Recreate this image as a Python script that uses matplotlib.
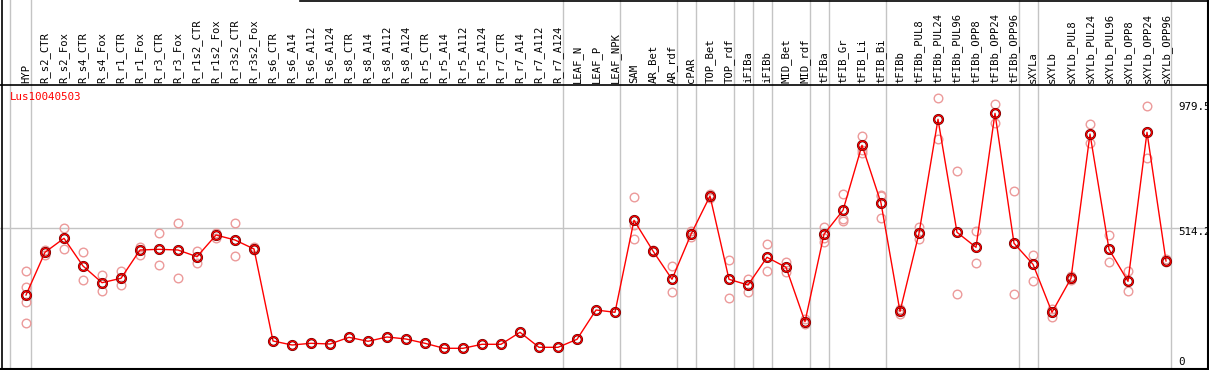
import matplotlib
matplotlib.use("Agg")
import matplotlib.pyplot as plt

# gene / sample names
gene = "Lus10040503"
categories = [
    "HYP", "R_s2_CTR", "R_s2_Fox", "R_s4_CTR", "R_s4_Fox", "R_r1_CTR", "R_r1_Fox",
    "R_r3_CTR", "R_r3_Fox", "R_r1s2_CTR", "R_r1s2_Fox", "R_r3s2_CTR", "R_r3s2_Fox",
    "R_s6_CTR", "R_s6_A14", "R_s6_A112", "R_s6_A124", "R_s8_CTR", "R_s8_A14",
    "R_s8_A112", "R_s8_A124", "R_r5_CTR", "R_r5_A14", "R_r5_A112", "R_r5_A124",
    "R_r7_CTR", "R_r7_A14", "R_r7_A112", "R_r7_A124", "LEAF_N", "LEAF_P", "LEAF_NPK",
    "SAM", "AR_Bet", "AR_rdf", "cPAR", "TOP_Bet", "TOP_rdf", "iFIBa", "iFIBb",
    "MID_Bet", "MID_rdf", "tFIBa", "tFIB_Gr", "tFIB_Li", "tFIB_Bi", "tFIBb",
    "tFIBb_PUL8", "tFIBb_PUL24", "tFIBb_PUL96", "tFIBb_OPP8", "tFIBb_OPP24",
    "tFIBb_OPP96", "sXYLa", "sXYLb", "sXYLb_PUL8", "sXYLb_PUL24", "sXYLb_PUL96",
    "sXYLb_OPP8", "sXYLb_OPP24", "sXYLb_OPP96",
]

means = [
    264.3, 423.3, 475.4, 372.3, 310.1, 326.5, 431.8, 434.4, 431.8, 406.9, 487.6,
    469.1, 435.6, 93.1, 78.2, 84.5, 81.9, 106.8, 92.0, 108.0, 100.5, 84.5, 65.9,
    65.9, 80.8, 80.8, 125.5, 69.6, 69.6, 99.4, 208.5, 199.9, 542.4, 428.1, 322.8,
    490.3, 632.9, 322.8, 301.5, 404.7, 367.4, 164.9, 490.3, 579.6, 821.6, 606.8,
    202.9, 494.0, 918.4, 497.7, 441.9, 940.7, 456.8, 378.6, 199.9, 326.5, 863.7,
    434.4, 315.3, 870.0, 390.9,
]

replicates = [
    [353.7, 294.1, 238.3, 160.1], [431.8, 413.2], [512.6, 434.4], [423.3, 320.2],
    [337.7, 279.2], [353.7, 300.4], [444.1, 414.3], [494.0, 376.0], [531.2, 326.5],
    [428.1, 382.3], [496.2, 477.6], [531.2, 409.5], [444.0, 432.0],
    [], [], [], [], [], [], [], [], [], [], [], [], [], [], [], [], [], [], [],
    [628.0, 471.7, 524.9], [430.0, 426.0], [371.2, 274.4], [502.6, 479.1],
    [640.3, 625.4], [393.5, 252.0], [322.8, 276.6], [453.1, 352.5], [387.2, 349.9],
    [175.0, 156.4], [517.4, 462.7, 476.5], [640.3, 547.2, 540.9],
    [856.2, 791.8, 804.1], [632.9, 549.8, 637.0], [212.0, 193.6], [518.6, 472.8],
    [996.6, 843.9], [726.0, 268.0], [502.6, 382.3], [975.3, 905.7], [651.5, 268.0],
    [413.2, 316.4, 380.0], [211.1, 183.5], [335.0, 320.2], [900.9, 829.0],
    [487.6, 386.0], [353.7, 279.2], [967.9, 773.2], [398.3, 387.2],
]

# gray separators after these groups
group_ends = ["HYP", "R_r7_A124", "LEAF_NPK", "AR_rdf", "cPAR", "TOP_rdf", "iFIBa",
              "iFIBb", "MID_rdf", "tFIBa", "tFIB_Bi", "tFIBb_OPP96", "sXYLa",
              "sXYLb_OPP96"]
ref_labels = ["979.5", "514.2", "0"]

# pixel layout helpers
K = 0.26862
def py(p):
    return (366 - p) / K
def px(p):
    return (p - 26) / 19.0

MONO = "DejaVu Sans Mono"
GRAY = "#c4c4c4"

fig = plt.figure(figsize=(12.09, 3.70), dpi=100)
ax = fig.add_axes([0, 0, 1, 1])
ax.set_xlim(px(0), px(1209))
ax.set_ylim(py(370), py(0))
ax.axis("off")

# separators
ax.axvline(px(10), color=GRAY, lw=1, zorder=1)
for name in group_ends:
    ax.axvline(categories.index(name) + 0.237, color=GRAY, lw=1, zorder=1)
ax.axhline(514.2, color=GRAY, lw=1, zorder=1)

# borders
ax.axhline(py(85), color="black", lw=1.2, zorder=2)
ax.axhline(py(369), color="black", lw=1.5, zorder=2)
ax.plot([px(300), px(1209)], [py(0.5), py(0.5)], color="black", lw=1.2, zorder=2)
ax.axvline(px(2), color="black", lw=1.2, zorder=2)
ax.axvline(px(1207.5), color="black", lw=1.5, zorder=2)

# header labels
for i, name in enumerate(categories):
    ax.text(i, py(83), name, rotation=90, ha="center", va="bottom",
            family=MONO, fontsize=7.6, color="black")

# replicates
for i, reps in enumerate(replicates):
    if reps:
        ax.plot([i] * len(reps), reps, "o", ms=6.2, mfc="none", mec="#ec9a9a",
                mew=1.0, zorder=3)

# mean line
xs = list(range(len(means)))
ax.plot(xs, means, "-", color="red", lw=1.0, zorder=4)
ax.plot(xs, means, "o", ms=6.3, mfc="none", mec="#500000", mew=1.7, zorder=5)
ax.plot(xs, means, "o", ms=6.3, mfc="none", mec="red", mew=0.9, zorder=6)

# title and value labels
ax.text(px(10), py(97), gene, ha="left", va="center", family=MONO, fontsize=7.8,
        color="red")
for lab, ypix in zip(ref_labels, [107, 232, 362]):
    ax.text(px(1178), py(ypix), lab, ha="left", va="center", family=MONO,
            fontsize=7.8)

fig.savefig("out.png", dpi=100)
